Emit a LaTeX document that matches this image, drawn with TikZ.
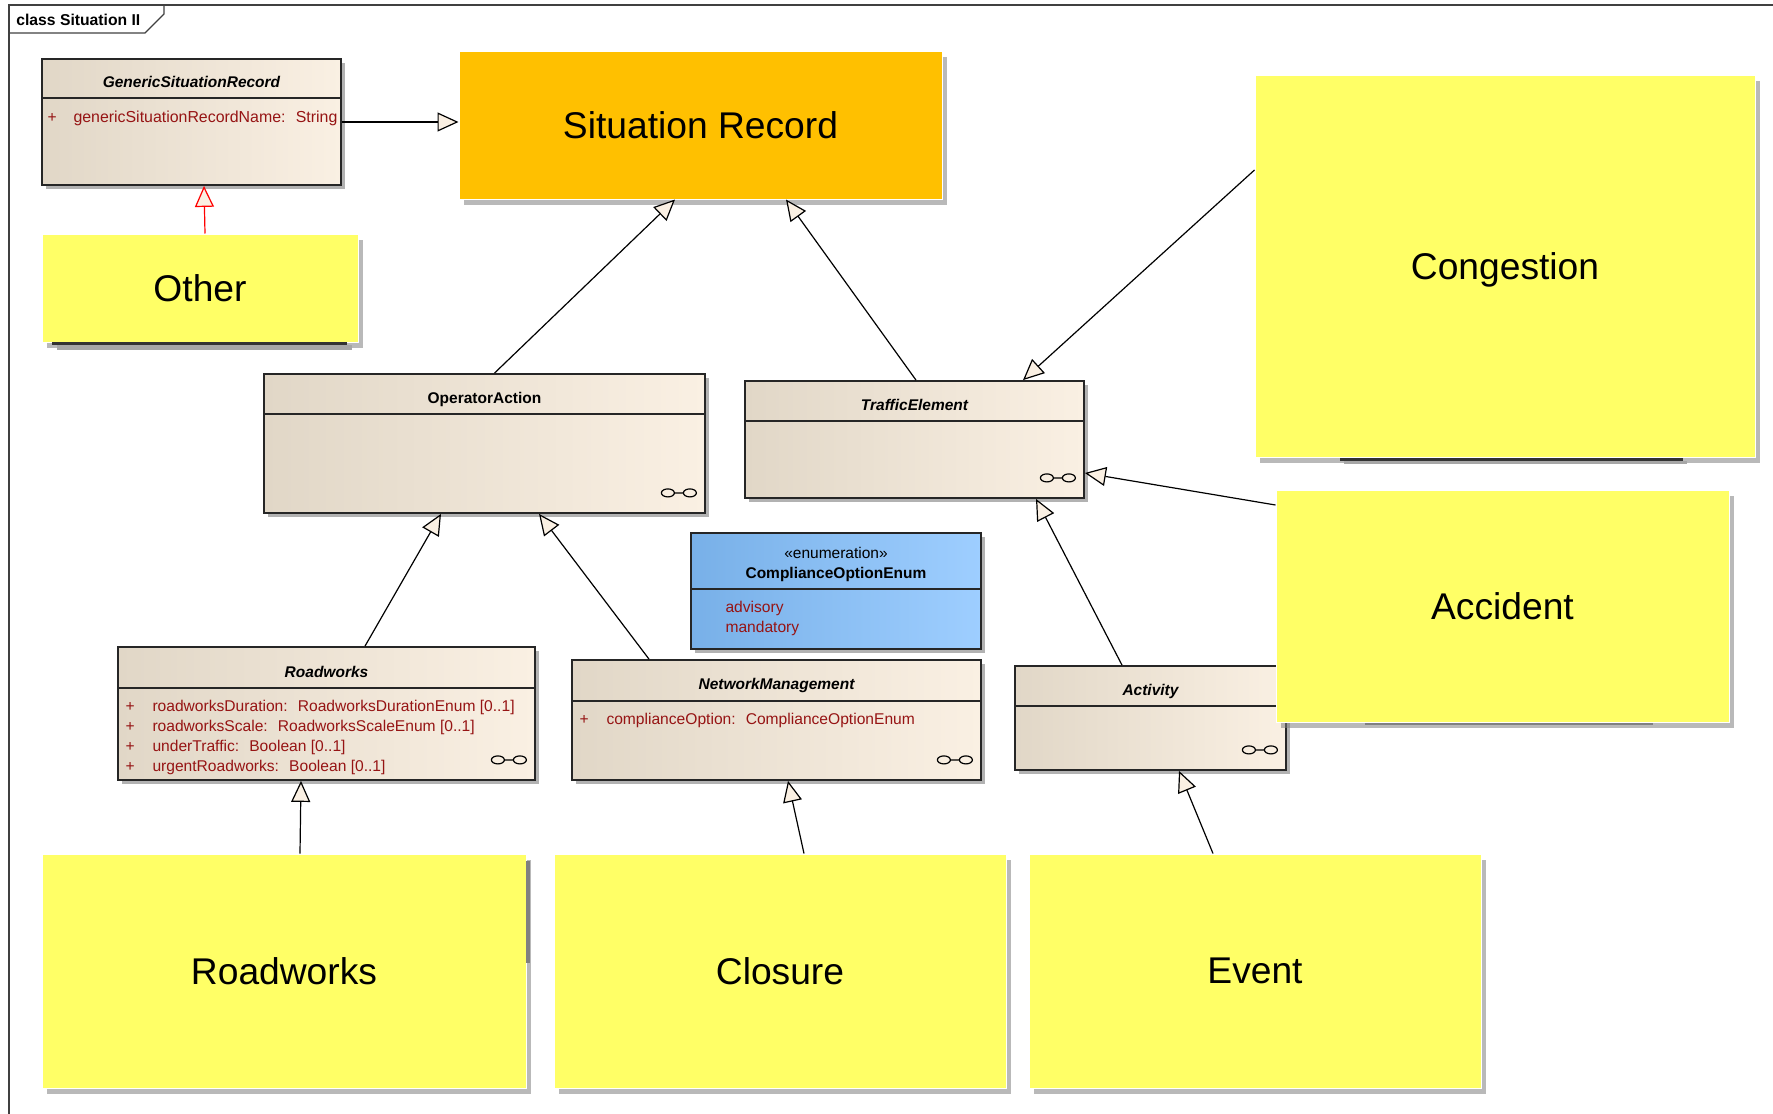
\documentclass[tikz,border=0pt]{standalone}
\usepackage{fontspec}
\setmainfont{Liberation Sans}
\usepackage{tikz}
\usetikzlibrary{calc, fit, shadows, arrows.meta}

\definecolor{clsleft}{RGB}{225,215,199}
\definecolor{clsmid}{RGB}{246,236,222}
\definecolor{clsright}{RGB}{250,240,227}
\definecolor{enumleft}{RGB}{120,176,232}
\definecolor{enummid}{RGB}{148,198,250}
\definecolor{enumright}{RGB}{158,206,255}
\definecolor{notefill}{RGB}{255,255,102}
\definecolor{recordfill}{RGB}{255,192,0}
\definecolor{attrred}{RGB}{150,20,20}
\definecolor{framegray}{RGB}{64,64,64}

\begin{document}
\begin{tikzpicture}[x=0.5pt, y=-0.5pt,
    clsbox/.style={inner sep=0pt, draw=black!85, line width=0.9pt,
      left color=clsleft, middle color=clsmid, right color=clsright,
      drop shadow={shadow xshift=2pt, shadow yshift=-2pt, fill=black!30, opacity=1}},
    enumbox/.style={clsbox, left color=enumleft, middle color=enummid, right color=enumright},
    notebox/.style={inner sep=0pt, draw=white, line width=0.5pt, fill=notefill,
      drop shadow={shadow xshift=2.5pt, shadow yshift=-3pt, fill=black!50, opacity=0.55}},
    recordbox/.style={notebox, fill=recordfill},
    notetext/.style={inner sep=0pt, text depth=0pt, font=\fontsize{18.6}{22}\selectfont},
    clsname/.style={inner sep=0pt, font=\fontsize{7.75}{9}\selectfont\bfseries\itshape},
    clsattr/.style={inner sep=0pt, anchor=west, text=attrred, font=\fontsize{7.8}{9}\selectfont},
    attrsign/.style={inner sep=0pt, text=attrred, font=\fontsize{7.8}{9}\selectfont},
    sepline/.style={draw=black!85, line width=0.8pt},
    genarrow/.style={draw=black, line width=0.6pt, -{Triangle[length=10.5pt, width=9.5pt, fill=clsright]}}
  ]
  \useasboundingbox (0,0) rectangle (1773,1114);

  \draw[framegray, line width=0.7pt] (1773,5) -- (9,5) -- (9,1114);
  \draw[framegray, line width=0.7pt] (9,33) -- (145,33) -- (164,14) -- (164,5);
  \node[anchor=west, inner sep=0pt, font=\fontsize{7.85}{9}\selectfont\bfseries] (frame-t) at (16,20) {class Situation II};

  \node[clsbox, fit={(42,59) (341,185)}] (gsr) {};
  \node[clsbox, fit={(264,374) (705,513)}] (oa) {};
  \node[clsbox, fit={(745,381) (1084,498)}] (te) {};
  \node[clsbox, fit={(118,647) (535,780)}] (rw) {};
  \node[clsbox, fit={(572,660) (981,780)}] (nm) {};
  \node[clsbox, fit={(1015,666) (1286,770)}] (act) {};
  \node[enumbox, fit={(691,533) (981,649)}] (en) {};

  \foreach \c/\h in {gsr/40, oa/41, te/41, rw/42, nm/42, act/41, en/57}
    \draw[sepline] ($(\c.north west)+(0,\h)$) -- ($(\c.north east)+(0,\h)$);

  \foreach \c in {oa, te, rw, nm, act}
    \draw[line width=0.6pt] ($(\c.south east)+(-38,-21)$) ellipse [x radius=6.5, y radius=4]
      ($(\c.south east)+(-16,-21)$) ellipse [x radius=6.5, y radius=4]
      ($(\c.south east)+(-31.5,-21)$) -- ($(\c.south east)+(-22.5,-21)$);

  \node[clsname] (gsr-n) at ($(gsr.north)+(0,24)$) {GenericSituationRecord};
  \node[attrsign] (gsr-p1) at ($(gsr.north west)+(11,60)$) {+};
  \node[clsattr, font=\fontsize{7.95}{9}\selectfont] (gsr-a1) at ($(gsr.north west)+(32,60)$) {genericSituationRecordName:~ String};

  \node[clsname, font=\fontsize{7.75}{9}\selectfont\bfseries] (oa-n) at ($(oa.north)+(0,26)$) {OperatorAction};
  \node[clsname] (te-n) at ($(te.north)+(0,25)$) {TrafficElement};

  \node[clsname] (rw-n) at ($(rw.north)+(0,26)$) {Roadworks};
  \node[attrsign] (rw-p1) at ($(rw.north west)+(13,61)$) {+};
  \node[attrsign] (rw-p2) at ($(rw.north west)+(13,81)$) {+};
  \node[attrsign] (rw-p3) at ($(rw.north west)+(13,101)$) {+};
  \node[attrsign] (rw-p4) at ($(rw.north west)+(13,121)$) {+};
  \node[clsattr] (rw-a1) at ($(rw.north west)+(35,61)$) {roadworksDuration:~ RoadworksDurationEnum [0..1]};
  \node[clsattr] (rw-a2) at ($(rw.north west)+(35,81)$) {roadworksScale:~ RoadworksScaleEnum [0..1]};
  \node[clsattr] (rw-a3) at ($(rw.north west)+(35,101)$) {underTraffic:~ Boolean [0..1]};
  \node[clsattr] (rw-a4) at ($(rw.north west)+(35,121)$) {urgentRoadworks:~ Boolean [0..1]};

  \node[clsname] (nm-n) at ($(nm.north)+(0,26)$) {NetworkManagement};
  \node[attrsign] (nm-p1) at ($(nm.north west)+(13,61)$) {+};
  \node[clsattr] (nm-a1) at ($(nm.north west)+(35,61)$) {complianceOption:~ ComplianceOptionEnum};

  \node[clsname] (act-n) at ($(act.north)+(0,26)$) {Activity};

  \node[inner sep=0pt, font=\fontsize{7.75}{9}\selectfont] (en-s) at ($(en.north)+(0,21)$) {«enumeration»};
  \node[clsname, font=\fontsize{7.75}{9}\selectfont\bfseries] (en-n) at ($(en.north)+(0,42)$) {ComplianceOptionEnum};
  \node[clsattr] (en-l1) at ($(en.north west)+(35,76)$) {advisory};
  \node[clsattr] (en-l2) at ($(en.north west)+(35,96)$) {mandatory};

  \node[recordbox, fit={(459,51) (942,199)}] (sr) {};
  \node[notebox, fit={(42,234) (358,342)}] (other) {};
  \node[notebox, fit={(1255,75) (1755,457)}] (cong) {};
  \node[notebox, fit={(1276,490) (1729,722)}] (acc) {};
  \node[notebox, fit={(42,854) (526,1088)}] (rwn) {};
  \node[notebox, fit={(554,854) (1006,1088)}] (clo) {};
  \node[notebox, fit={(1029,854) (1481,1088)}] (evt) {};

  \node[notetext] (sr-t) at (sr.center) {Situation Record};
  \node[notetext] (other-t) at (other.center) {Other};
  \node[notetext] (cong-t) at (cong.center) {Congestion};
  \node[notetext] (acc-t) at (acc.center) {Accident};
  \node[notetext] (rwn-t) at (rwn.center) {Roadworks};
  \node[notetext] (clo-t) at (clo.center) {Closure};
  \node[notetext] (evt-t) at (evt.center) {Event};

  \fill[black!80] (52,342) rectangle (347,345);
  \fill[black!35] (57,345) rectangle (352,350);
  \fill[black!80] (1340,458) rectangle (1683,461);
  \fill[black!35] (1344,461) rectangle (1687,464);
  \fill[black!50] (1365,723) rectangle (1653,725);
  \fill[black!50] (526,861) rectangle (530,963);

  \draw[genarrow] (gsr.east) -- (gsr.east -| sr.west);
  \draw[genarrow, draw=red] ($(other.north)+(5,0)$) -- ($(gsr.south)+(12.5,0)$);
  \draw[genarrow] ($(oa.north)+(10,0)$) -- ($(sr.south)+(-25.5,0)$);
  \draw[genarrow] ($(te.north)+(1.5,0)$) -- ($(sr.south)+(85.5,0)$);
  \draw[genarrow] ($(cong.west)+(0,-96)$) -- ($(te.north)+(108.5,0)$);
  \draw[genarrow] ($(acc.west)+(0,-101)$) -- ($(te.east)+(0,33.5)$);
  \draw[genarrow] ($(act.north)+(-28.5,0)$) -- ($(te.south)+(121.5,0)$);
  \draw[genarrow] ($(rw.north)+(38.5,0)$) -- ($(oa.south)+(-43.5,0)$);
  \draw[genarrow] ($(nm.north)+(-127.5,0)$) -- ($(oa.south)+(54.5,0)$);
  \draw[genarrow] ($(rwn.north)+(16,0)$) -- ($(rw.south)+(-25.5,0)$);
  \draw[genarrow] ($(clo.north)+(24,0)$) -- ($(nm.south)+(11.5,0)$);
  \draw[genarrow] ($(evt.north)+(-42,0)$) -- ($(act.south)+(28.5,0)$);
\end{tikzpicture}
\end{document}
